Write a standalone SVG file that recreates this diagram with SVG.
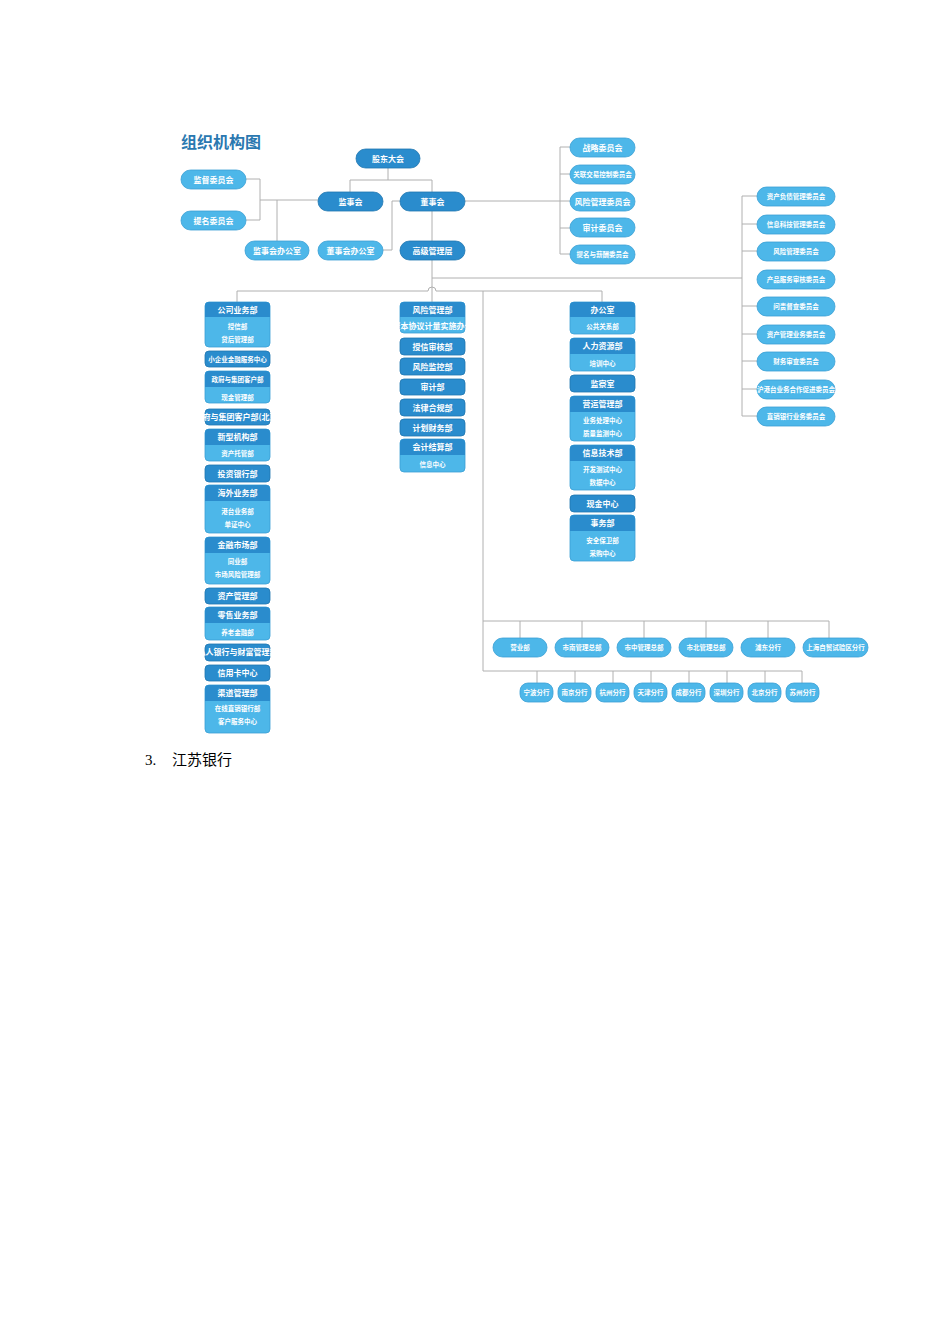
<svg xmlns="http://www.w3.org/2000/svg" width="950" height="1344" viewBox="0 0 950 1344">
<style>
.d{fill:#2a8ccd;stroke:#1f76b0;stroke-width:0.8}
.l{fill:#4db7e9;stroke:#3aa0d4;stroke-width:0.8}
.h{fill:#2a8ccd}
.t{font-family:"Noto Sans CJK SC","Noto Sans",sans-serif;font-size:8px;fill:#fff;text-anchor:middle;font-weight:bold}
.s{font-size:6.5px}
.c path{fill:none;stroke:#b0b0b0;stroke-width:1}
</style>
<rect width="950" height="1344" fill="#fff"/>
<text x="181" y="148" font-family="Noto Sans CJK SC,sans-serif" font-size="16" font-weight="bold" fill="#2a78b0">组织机构图</text>
<g class="c">
<path d="M388 168V180M350 180H432M350 180V192M432 180V192"/>
<path d="M246 179H260M246 220H260M260 179V220M260 200H318M277 200V241"/>
<path d="M400 201H392V250H383"/>
<path d="M432 211V241M432 260V291"/>
<path d="M465 201H570M560 147V254M560 147H570M560 174H570M560 228H570M560 254H570"/>
<path d="M432 278H742M742 196V416M742 196H757M742 224H757M742 251H757M742 306H757M742 334H757M742 361H757M742 389H757M742 416H757"/>
<path d="M237 291H428A4 4 0 0 1 436 291H602M237 291V302M432 291V302M602 291V302M483 291V671"/>
<path d="M483 621H829M520 621V638M582 621V638M644 621V638M706 621V638M768 621V638M829 621V638"/>
<path d="M483 671H802M537 671V683M575 671V683M613 671V683M651 671V683M689 671V683M727 671V683M765 671V683M802 671V683"/>
</g>
<g id="gd"><rect class="d" x="356" y="149" width="64" height="19" rx="9.5"/><text class="t" x="388" y="161.5">股东大会</text></g>
<g id="jd"><rect class="l" x="181" y="170" width="65" height="19" rx="9.5"/><text class="t" x="213.5" y="182.5">监督委员会</text></g>
<g id="tm"><rect class="l" x="181" y="211" width="65" height="19" rx="9.5"/><text class="t" x="213.5" y="223.5">提名委员会</text></g>
<g id="jsh"><rect class="d" x="318" y="192" width="65" height="19" rx="9.5"/><text class="t" x="350.5" y="204.5">监事会</text></g>
<g id="dsh"><rect class="d" x="400" y="192" width="65" height="19" rx="9.5"/><text class="t" x="432.5" y="204.5">董事会</text></g>
<g id="jsb"><rect class="l" x="245" y="241" width="64" height="19" rx="9.5"/><text class="t" x="277" y="253.5">监事会办公室</text></g>
<g id="dsb"><rect class="l" x="318" y="241" width="65" height="19" rx="9.5"/><text class="t" x="350.5" y="253.5">董事会办公室</text></g>
<g id="gj"><rect class="d" x="400" y="241" width="65" height="19" rx="9.5"/><text class="t" x="432.5" y="253.5">高级管理层</text></g>
<g id="r1"><rect class="l" x="570" y="138" width="65" height="19" rx="9.5"/><text class="t" x="602.5" y="150.5">战略委员会</text></g>
<g id="r2"><rect class="l" x="570" y="165" width="65" height="19" rx="9.5"/><text class="t s" x="602.5" y="177">关联交易控制委员会</text></g>
<g id="r3"><rect class="l" x="570" y="192" width="65" height="19" rx="9.5"/><text class="t" x="602.5" y="204.5">风险管理委员会</text></g>
<g id="r4"><rect class="l" x="570" y="218" width="65" height="19" rx="9.5"/><text class="t" x="602.5" y="230.5">审计委员会</text></g>
<g id="r5"><rect class="l" x="570" y="245" width="65" height="19" rx="9.5"/><text class="t s" x="602.5" y="257">提名与薪酬委员会</text></g>
<g id="m1"><rect class="l" x="757" y="187" width="78" height="19" rx="9.5"/><text class="t s" x="796" y="199">资产负债管理委员会</text></g>
<g id="m2"><rect class="l" x="757" y="215" width="78" height="19" rx="9.5"/><text class="t s" x="796" y="227">信息科技管理委员会</text></g>
<g id="m3"><rect class="l" x="757" y="242" width="78" height="19" rx="9.5"/><text class="t s" x="796" y="254">风险管理委员会</text></g>
<g id="m4"><rect class="l" x="757" y="270" width="78" height="19" rx="9.5"/><text class="t s" x="796" y="282">产品服务审核委员会</text></g>
<g id="m5"><rect class="l" x="757" y="297" width="78" height="19" rx="9.5"/><text class="t s" x="796" y="309">问责督查委员会</text></g>
<g id="m6"><rect class="l" x="757" y="325" width="78" height="19" rx="9.5"/><text class="t s" x="796" y="337">资产管理业务委员会</text></g>
<g id="m7"><rect class="l" x="757" y="352" width="78" height="19" rx="9.5"/><text class="t s" x="796" y="364">财务审查委员会</text></g>
<g id="m8"><rect class="l" x="757" y="380" width="78" height="19" rx="9.5"/><text class="t s" x="796" y="392">沪港台业务合作促进委员会</text></g>
<g id="m9"><rect class="l" x="757" y="407" width="78" height="19" rx="9.5"/><text class="t s" x="796" y="419">直销银行业务委员会</text></g>

<g id="a1"><rect class="l" x="205" y="302" width="65" height="45" rx="4"/><path class="h" d="M209 302H266A4 4 0 0 1 270 306V317H205V306A4 4 0 0 1 209 302Z"/><text class="t" x="237.5" y="312.5">公司业务部</text><text class="t s" x="237.5" y="329">授信部</text><text class="t s" x="237.5" y="342">贷后管理部</text></g>
<g id="a2"><rect class="d" x="205" y="351" width="65" height="16" rx="4"/><text class="t s" x="237.5" y="361.5">小企业金融服务中心</text></g>
<g id="a3"><rect class="l" x="205" y="371" width="65" height="32" rx="4"/><path class="h" d="M209 371H266A4 4 0 0 1 270 375V387H205V375A4 4 0 0 1 209 371Z"/><text class="t s" x="237.5" y="381.5">政府与集团客户部</text><text class="t s" x="237.5" y="399.5">现金管理部</text></g>
<g id="a4"><rect class="d" x="205" y="409" width="65" height="16" rx="4"/><text class="t" x="237.5" y="419.5" font-size="5.5">政府与集团客户部(北京)</text></g>
<g id="a5"><rect class="l" x="205" y="429" width="65" height="32" rx="4"/><path class="h" d="M209 429H266A4 4 0 0 1 270 433V445H205V433A4 4 0 0 1 209 429Z"/><text class="t" x="237.5" y="440">新型机构部</text><text class="t s" x="237.5" y="455.5">资产托管部</text></g>
<g id="a6"><rect class="d" x="205" y="465" width="65" height="17" rx="4"/><text class="t" x="237.5" y="476.5">投资银行部</text></g>
<g id="a7"><rect class="l" x="205" y="485" width="65" height="48" rx="4"/><path class="h" d="M209 485H266A4 4 0 0 1 270 489V501H205V489A4 4 0 0 1 209 485Z"/><text class="t" x="237.5" y="496">海外业务部</text><text class="t s" x="237.5" y="513.5">港台业务部</text><text class="t s" x="237.5" y="526.5">单证中心</text></g>
<g id="a8"><rect class="l" x="205" y="537" width="65" height="47" rx="4"/><path class="h" d="M209 537H266A4 4 0 0 1 270 541V553H205V541A4 4 0 0 1 209 537Z"/><text class="t" x="237.5" y="548">金融市场部</text><text class="t s" x="237.5" y="563.5">同业部</text><text class="t s" x="237.5" y="576.5">市场风险管理部</text></g>
<g id="a9"><rect class="d" x="205" y="588" width="65" height="16" rx="4"/><text class="t" x="237.5" y="599">资产管理部</text></g>
<g id="a10"><rect class="l" x="205" y="607" width="65" height="33" rx="4"/><path class="h" d="M209 607H266A4 4 0 0 1 270 611V623H205V611A4 4 0 0 1 209 607Z"/><text class="t" x="237.5" y="618">零售业务部</text><text class="t s" x="237.5" y="634.5">养老金融部</text></g>
<g id="a11"><rect class="d" x="205" y="644" width="65" height="17" rx="4"/><text class="t" x="237.5" y="655" font-size="6">私人银行与财富管理部</text></g>
<g id="a12"><rect class="d" x="205" y="665" width="65" height="16" rx="4"/><text class="t" x="237.5" y="676">信用卡中心</text></g>
<g id="a13"><rect class="l" x="205" y="685" width="65" height="48" rx="4"/><path class="h" d="M209 685H266A4 4 0 0 1 270 689V701H205V689A4 4 0 0 1 209 685Z"/><text class="t" x="237.5" y="696">渠道管理部</text><text class="t s" x="237.5" y="710.5">在线直销银行部</text><text class="t s" x="237.5" y="723.5">客户服务中心</text></g>

<g id="b1"><rect class="l" x="400" y="302" width="65" height="31" rx="4"/><path class="h" d="M404 302H461A4 4 0 0 1 465 306V317H400V306A4 4 0 0 1 404 302Z"/><text class="t" x="432.5" y="312.5">风险管理部</text><text class="t" x="432.5" y="328.5" font-size="5">新资本协议计量实施办公室</text></g>
<g id="b2"><rect class="d" x="400" y="338" width="65" height="17" rx="4"/><text class="t" x="432.5" y="349.5">授信审核部</text></g>
<g id="b3"><rect class="d" x="400" y="358" width="65" height="17" rx="4"/><text class="t" x="432.5" y="369.5">风险监控部</text></g>
<g id="b4"><rect class="d" x="400" y="379" width="65" height="16" rx="4"/><text class="t" x="432.5" y="390">审计部</text></g>
<g id="b5"><rect class="d" x="400" y="399" width="65" height="17" rx="4"/><text class="t" x="432.5" y="410.5">法律合规部</text></g>
<g id="b6"><rect class="d" x="400" y="419" width="65" height="17" rx="4"/><text class="t" x="432.5" y="430.5">计划财务部</text></g>
<g id="b7"><rect class="l" x="400" y="439" width="65" height="33" rx="4"/><path class="h" d="M404 439H461A4 4 0 0 1 465 443V455H400V443A4 4 0 0 1 404 439Z"/><text class="t" x="432.5" y="450">会计结算部</text><text class="t s" x="432.5" y="466.5">信息中心</text></g>

<g id="c1"><rect class="l" x="570" y="302" width="65" height="32" rx="4"/><path class="h" d="M574 302H631A4 4 0 0 1 635 306V317H570V306A4 4 0 0 1 574 302Z"/><text class="t" x="602.5" y="312.5">办公室</text><text class="t s" x="602.5" y="328.5">公共关系部</text></g>
<g id="c2"><rect class="l" x="570" y="338" width="65" height="33" rx="4"/><path class="h" d="M574 338H631A4 4 0 0 1 635 342V354H570V342A4 4 0 0 1 574 338Z"/><text class="t" x="602.5" y="349">人力资源部</text><text class="t s" x="602.5" y="365.5">培训中心</text></g>
<g id="c3"><rect class="d" x="570" y="375" width="65" height="17" rx="4"/><text class="t" x="602.5" y="386.5">监察室</text></g>
<g id="c4"><rect class="l" x="570" y="396" width="65" height="45" rx="4"/><path class="h" d="M574 396H631A4 4 0 0 1 635 400V412H570V400A4 4 0 0 1 574 396Z"/><text class="t" x="602.5" y="407">营运管理部</text><text class="t s" x="602.5" y="422.5">业务处理中心</text><text class="t s" x="602.5" y="435.5">质量监测中心</text></g>
<g id="c5"><rect class="l" x="570" y="445" width="65" height="45" rx="4"/><path class="h" d="M574 445H631A4 4 0 0 1 635 449V461H570V449A4 4 0 0 1 574 445Z"/><text class="t" x="602.5" y="456">信息技术部</text><text class="t s" x="602.5" y="471.5">开发测试中心</text><text class="t s" x="602.5" y="484.5">数据中心</text></g>
<g id="c6"><rect class="d" x="570" y="495" width="65" height="17" rx="4"/><text class="t" x="602.5" y="506.5">现金中心</text></g>
<g id="c7"><rect class="l" x="570" y="515" width="65" height="46" rx="4"/><path class="h" d="M574 515H631A4 4 0 0 1 635 519V531H570V519A4 4 0 0 1 574 515Z"/><text class="t" x="602.5" y="526">事务部</text><text class="t s" x="602.5" y="542.5">安全保卫部</text><text class="t s" x="602.5" y="555.5">采购中心</text></g>

<g id="e1"><rect class="l" x="493" y="638" width="54" height="19" rx="9.5"/><text class="t s" x="520" y="650">营业部</text></g>
<g id="e2"><rect class="l" x="555" y="638" width="54" height="19" rx="9.5"/><text class="t s" x="582" y="650">市南管理总部</text></g>
<g id="e3"><rect class="l" x="617" y="638" width="54" height="19" rx="9.5"/><text class="t s" x="644" y="650">市中管理总部</text></g>
<g id="e4"><rect class="l" x="679" y="638" width="54" height="19" rx="9.5"/><text class="t s" x="706" y="650">市北管理总部</text></g>
<g id="e5"><rect class="l" x="741" y="638" width="54" height="19" rx="9.5"/><text class="t s" x="768" y="650">浦东分行</text></g>
<g id="e6"><rect class="l" x="803" y="638" width="65" height="19" rx="9.5"/><text class="t s" x="835.5" y="650">上海自贸试验区分行</text></g>
<g id="f1"><rect class="l" x="520" y="683" width="33" height="19" rx="8"/><text class="t s" x="536.5" y="695">宁波分行</text></g>
<g id="f2"><rect class="l" x="558" y="683" width="33" height="19" rx="8"/><text class="t s" x="574.5" y="695">南京分行</text></g>
<g id="f3"><rect class="l" x="596" y="683" width="33" height="19" rx="8"/><text class="t s" x="612.5" y="695">杭州分行</text></g>
<g id="f4"><rect class="l" x="634" y="683" width="33" height="19" rx="8"/><text class="t s" x="650.5" y="695">天津分行</text></g>
<g id="f5"><rect class="l" x="672" y="683" width="33" height="19" rx="8"/><text class="t s" x="688.5" y="695">成都分行</text></g>
<g id="f6"><rect class="l" x="710" y="683" width="33" height="19" rx="8"/><text class="t s" x="726.5" y="695">深圳分行</text></g>
<g id="f7"><rect class="l" x="748" y="683" width="33" height="19" rx="8"/><text class="t s" x="764.5" y="695">北京分行</text></g>
<g id="f8"><rect class="l" x="786" y="683" width="33" height="19" rx="8"/><text class="t s" x="802.5" y="695">苏州分行</text></g>

<text x="145" y="765" font-family="Liberation Serif,Noto Sans CJK SC,serif" font-size="15" fill="#000">3.</text>
<text x="172" y="765" font-family="Liberation Serif,Noto Sans CJK SC,serif" font-size="15" fill="#000">江苏银行</text>
</svg>
